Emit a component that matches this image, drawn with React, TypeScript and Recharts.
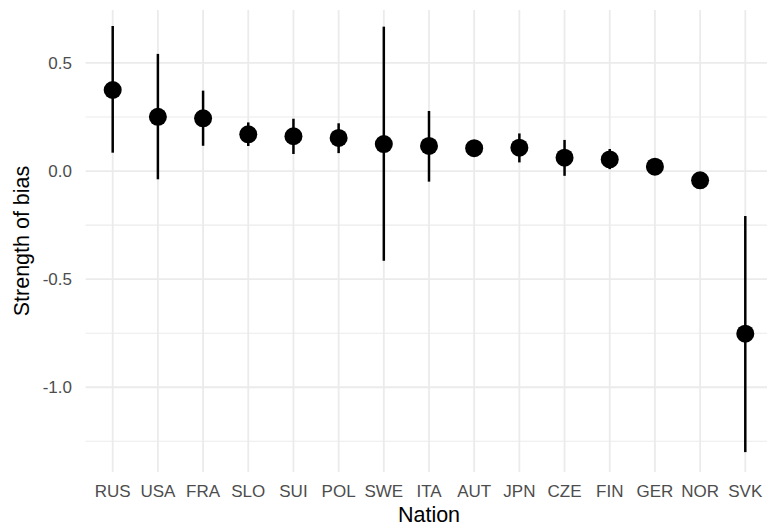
import {
  ComposedChart,
  Scatter,
  ErrorBar,
  XAxis,
  YAxis,
  ReferenceLine,
  Label,
} from "recharts";

const nations = ["RUS", "USA", "FRA", "SLO", "SUI", "POL", "SWE", "ITA", "AUT", "JPN", "CZE", "FIN", "GER", "NOR", "SVK"];
const estimates = [0.375, 0.251, 0.244, 0.17, 0.161, 0.153, 0.125, 0.116, 0.106, 0.108, 0.062, 0.054, 0.02, -0.043, -0.752];
const lowers = [0.085, -0.038, 0.117, 0.116, 0.079, 0.083, -0.415, -0.049, 0.095, 0.04, -0.022, 0.009, 0.01, -0.053, -1.3];
const uppers = [0.671, 0.542, 0.372, 0.225, 0.242, 0.221, 0.668, 0.278, 0.117, 0.174, 0.144, 0.102, 0.03, -0.033, -0.208];

const yMajor = [-1, -0.5, 0, 0.5];
const yMinor = [-1.25, -0.75, -0.25, 0.25];

const data = nations.map((n, i) => ({
  x: i + 1,
  nation: n,
  bias: estimates[i],
  // ErrorBar wants [down, up] distances from the point
  err: [estimates[i] - lowers[i], uppers[i] - estimates[i]],
}));

const FONT = "'Liberation Sans', Arial, Helvetica, sans-serif";
const GRID = "#ebebeb";

const Dot = (props: any) => <circle cx={props.cx} cy={props.cy} r={9} fill="#000" />;

const YTitle = (props: any) => {
  const vb = props.viewBox;
  const cx = vb.x + 28.5;
  const cy = vb.y + vb.height / 2;
  return (
    <text
      x={cx}
      y={cy}
      transform={`rotate(-90, ${cx}, ${cy})`}
      textAnchor="middle"
      fontSize={21.5}
      fontFamily={FONT}
      fill="#000"
    >
      Strength of bias
    </text>
  );
};

export default function App() {
  return (
    <div
      style={{
        position: "absolute",
        left: 0,
        top: 0,
        width: 767,
        height: 530,
        overflow: "hidden",
        background: "#fff",
      }}
    >
      <ComposedChart
        width={780}
        height={530}
        data={data}
        margin={{ top: 10, right: 7.6, bottom: 0, left: 0 }}
        style={{ fontFamily: FONT }}
      >
        {/* panel grid, ggplot minimal style: no border lines */}
        {yMinor.map((v) => (
          <ReferenceLine key={"mi" + v} y={v} stroke={GRID} strokeWidth={1.1} />
        ))}
        {yMajor.map((v) => (
          <ReferenceLine key={"ma" + v} y={v} stroke={GRID} strokeWidth={1.8} />
        ))}
        {data.map((d) => (
          <ReferenceLine key={"x" + d.x} x={d.x} stroke={GRID} strokeWidth={1.8} />
        ))}
        <XAxis
          type="number"
          dataKey="x"
          domain={[0.4, 15.6]}
          ticks={data.map((d) => d.x)}
          tickFormatter={(v: number) => nations[v - 1] ?? ""}
          interval={0}
          allowDataOverflow
          axisLine={false}
          tickLine={false}
          tickSize={0}
          tickMargin={12.6}
          height={58}
          tick={{ fill: "#4d4d4d", fontSize: 17, fontFamily: FONT }}
        >
          <Label
            value="Nation"
            position="insideBottom"
            offset={8.3}
            style={{ fill: "#000", fontSize: 21.5, fontFamily: FONT }}
          />
        </XAxis>
        <YAxis
          type="number"
          domain={[-1.392, 0.745]}
          ticks={yMajor}
          tickFormatter={(v: number) => v.toFixed(1)}
          allowDataOverflow
          axisLine={false}
          tickLine={false}
          tickSize={0}
          tickMargin={13.6}
          width={85.6}
          tick={{ fill: "#4d4d4d", fontSize: 17, fontFamily: FONT }}
        >
          <Label content={YTitle} />
        </YAxis>
        <Scatter dataKey="bias" fill="#000" shape={Dot} isAnimationActive={false}>
          <ErrorBar
            dataKey="err"
            direction="y"
            width={0}
            stroke="#000"
            strokeWidth={2.5}
            isAnimationActive={false}
          />
        </Scatter>
      </ComposedChart>
    </div>
  );
}
